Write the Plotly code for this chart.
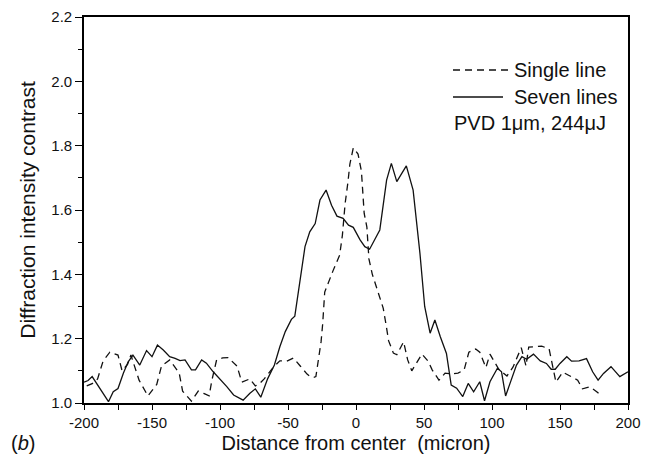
import plotly.graph_objects as go

# ---- data ----
seven_x = [-200, -197, -194, -191, -186, -182, -178.5, -175, -171, -167.5, -164, -159, -154, -150,
           -146, -141.7, -137, -133, -129.4, -125.7, -121, -118, -113.5, -110, -105, -99, -95, -90,
           -83, -78, -74, -70, -65, -60, -56, -52, -47.5, -45, -42.5, -37.5, -34, -30, -26.5, -22,
           -18, -14, -9.5, -5.5, -2, 3, 6.5, 10, 17.5, 22.5, 26, 30, 37, 42, 47, 50.5, 54.5, 58,
           62, 66.5, 70, 74, 78.5, 82.5, 86.5, 91, 94.5, 98.5, 104, 107, 110, 114, 118, 122, 125.5,
           130.5, 135.5, 140, 143.5, 146.5, 150, 155, 158.5, 164, 169.5, 174, 178, 182, 187.5, 194, 200]
seven_y = [1.065, 1.070, 1.082, 1.062, 1.030, 1.004, 1.035, 1.045, 1.093, 1.128, 1.149, 1.118, 1.163, 1.144,
           1.180, 1.165, 1.144, 1.139, 1.132, 1.134, 1.103, 1.103, 1.134, 1.124, 1.097, 1.071, 1.051, 1.025,
           1.009, 1.030, 1.044, 1.018, 1.075, 1.118, 1.175, 1.222, 1.260, 1.270, 1.341, 1.486, 1.532, 1.558, 1.631, 1.662,
           1.615, 1.581, 1.574, 1.553, 1.546, 1.507, 1.486, 1.478, 1.538, 1.693, 1.745, 1.688, 1.737, 1.662, 1.466, 1.300, 1.217, 1.258,
           1.206, 1.154, 1.056, 1.046, 1.020, 1.061, 1.035, 1.066, 1.007, 1.066, 1.108, 1.097, 1.022, 1.070, 1.118, 1.144, 1.136,
           1.152, 1.131, 1.123, 1.105, 1.105, 1.123, 1.144, 1.130, 1.131, 1.138, 1.097, 1.071, 1.092, 1.113, 1.082, 1.097]

single_x = [-198, -194, -190, -186, -181, -175, -172, -168, -165.5, -159.5, -153, -146.5, -143, -137,
            -130, -127.5, -121, -116, -112, -108, -106, -102.5, -98, -94, -87.5, -84, -78, -74, -71,
            -67.5, -61, -56, -51, -46, -41, -36, -33.5, -31, -29.5, -27.5, -25.7, -24.5, -23, -17, -12,
            -10, -8, -6, -4.5, -2, 1.5, 4, 5, 6, 8, 9.5, 12, 15.5, 20, 22, 24, 27.5, 30, 35, 38, 41,
            45, 48.5, 53, 56, 61, 65.5, 70, 75, 79.5, 83, 88, 91, 95.5, 98.5, 105, 111, 115.5, 117,
            121.5, 125, 127, 132, 136.5, 142, 147, 152, 157, 163, 166.5, 172, 177, 181]
single_y = [1.053, 1.060, 1.075, 1.130, 1.158, 1.149, 1.100, 1.120, 1.149, 1.071, 1.022, 1.058, 1.115, 1.134,
            1.093, 1.037, 1.006, 1.037, 1.030, 1.022, 1.070, 1.134, 1.140, 1.141, 1.115, 1.065, 1.075, 1.053, 1.060,
            1.075, 1.110, 1.131, 1.130, 1.140, 1.115, 1.090, 1.082, 1.080, 1.082, 1.140, 1.190, 1.246, 1.345, 1.410, 1.460,
            1.522, 1.620, 1.684, 1.743, 1.793, 1.774, 1.720, 1.657, 1.590, 1.547, 1.448, 1.400, 1.357, 1.295, 1.246, 1.193, 1.155, 1.150, 1.190, 1.134, 1.100,
            1.130, 1.152, 1.130, 1.103, 1.071, 1.093, 1.090, 1.093, 1.103, 1.158, 1.168, 1.158, 1.110, 1.152, 1.105, 1.084, 1.112, 1.127,
            1.172, 1.115, 1.174, 1.175, 1.177, 1.168, 1.065, 1.096, 1.085, 1.071, 1.044, 1.050, 1.035, 1.020]

x_ticks = [-200, -150, -100, -50, 0, 50, 100, 150, 200]
x_tick_labels = ["-200", "-150", "-100", "-50", "0", "50", "100", "150", "200"]
y_ticks = [1.0, 1.2, 1.4, 1.6, 1.8, 2.0, 2.2]
y_tick_labels = ["1.0", "1.2", "1.4", "1.6", "1.8", "2.0", "2.2"]

series_names = ["Single line", "Seven lines"]
note_text = "PVD 1\u03bcm, 244\u03bcJ"

FONT = "Liberation Sans, Arial, sans-serif"
DASH = "7px,5px"

fig = go.Figure()
fig.add_trace(go.Scatter(x=single_x, y=single_y, mode="lines", name=series_names[0],
                         line=dict(color="#111111", width=1.3, dash=DASH), showlegend=False))
fig.add_trace(go.Scatter(x=seven_x, y=seven_y, mode="lines", name=series_names[1],
                         line=dict(color="#111111", width=1.3), showlegend=False))

axis_common = dict(showgrid=False, zeroline=False, showline=True, linecolor="black", linewidth=1.6,
                   mirror=True, ticks="outside", tickcolor="black", tickwidth=1.3,
                   tickfont=dict(family=FONT, size=15, color="#111111"))

fig.update_xaxes(range=[-200, 200], tickvals=x_ticks, ticktext=x_tick_labels, ticklen=5,
                 minor=dict(dtick=25, tick0=-200, ticks="outside", ticklen=5, tickcolor="black", tickwidth=1.3),
                 title=dict(text="Distance from center\u00a0 (micron)", font=dict(family=FONT, size=20, color="#111111"),
                            standoff=6),
                 **axis_common)
fig.update_yaxes(range=[1.0, 2.2], tickvals=y_ticks, ticktext=y_tick_labels, ticklen=7,
                 minor=dict(dtick=0.1, tick0=1.0, ticks="outside", ticklen=4, tickcolor="black", tickwidth=1.3),
                 title=dict(text="Diffraction intensity contrast", font=dict(family=FONT, size=21, color="#111111"),
                            standoff=10),
                 **axis_common)

# custom legend (sample lines + labels) in paper coordinates
def px2paper_x(px):
    return (px - 84) / 544.0

def px2paper_y(py):
    return (403 - py) / 386.0

legend_rows = [(70, DASH), (97, "solid")]
shapes = []
annotations = []
for (py, dash), name in zip(legend_rows, series_names):
    shapes.append(dict(type="line", xref="paper", yref="paper",
                       x0=px2paper_x(453), x1=px2paper_x(503 if dash == "solid" else 509),
                       y0=px2paper_y(py), y1=px2paper_y(py),
                       line=dict(color="#111111", width=1.3, dash=dash)))
    annotations.append(dict(text=name, xref="paper", yref="paper", x=px2paper_x(512), y=px2paper_y(py),
                            xanchor="left", yanchor="middle", showarrow=False,
                            font=dict(family=FONT, size=20, color="#111111")))
annotations.append(dict(text=note_text, xref="paper", yref="paper", x=px2paper_x(452), y=px2paper_y(123),
                        xanchor="left", yanchor="middle", showarrow=False,
                        font=dict(family=FONT, size=20, color="#111111")))
annotations.append(dict(text="(<i>b</i>)", xref="paper", yref="paper", x=px2paper_x(9), y=px2paper_y(443),
                        xanchor="left", yanchor="middle", showarrow=False,
                        font=dict(family=FONT, size=20, color="#111111")))

fig.update_layout(width=652, height=463, margin=dict(l=84, r=24, t=17, b=60, autoexpand=False),
                  paper_bgcolor="white", plot_bgcolor="white",
                  shapes=shapes, annotations=annotations, showlegend=False)

fig.write_html("out.html")
